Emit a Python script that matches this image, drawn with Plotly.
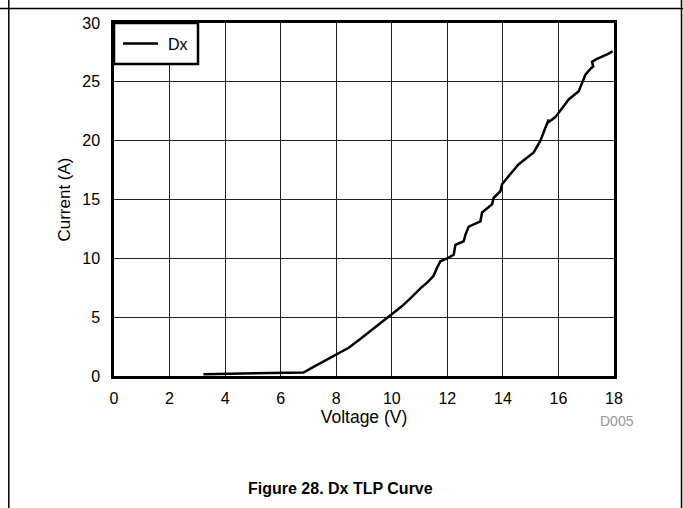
import plotly.graph_objects as go

voltage = [3.22, 4.0, 5.0, 6.0, 6.82, 7.2, 7.6, 8.0, 8.45, 8.9, 9.35, 9.7, 10.0,
           10.35, 10.67, 10.79, 11.03, 11.3, 11.5, 11.63, 11.75, 11.99, 12.23,
           12.29, 12.59, 12.65, 12.77, 13.19, 13.25, 13.61, 13.67, 13.91, 13.97,
           14.21, 14.57, 15.11, 15.35, 15.53, 15.65, 15.6, 15.89, 16.1, 16.37,
           16.73, 16.97, 17.15, 17.25, 17.21, 17.35, 17.81, 17.95]
current = [0.15, 0.17, 0.2, 0.25, 0.3, 0.8, 1.3, 1.8, 2.4, 3.2, 4.05, 4.65, 5.2,
           5.9, 6.6, 6.9, 7.45, 8.0, 8.5, 9.2, 9.75, 10.0, 10.3,
           11.15, 11.45, 12.0, 12.7, 13.15, 13.9, 14.6, 15.15, 15.7, 16.3,
           17.0, 18.0, 19.0, 20.0, 21.1, 21.8, 21.5, 22.0, 22.7, 23.5,
           24.2, 25.6, 26.1, 26.3, 26.7, 26.9, 27.4, 27.6]

x_ticks = list(range(0, 19, 2))
y_ticks = list(range(0, 31, 5))

W, H = 683, 508
L, R, T, B = 114, 69, 23, 132
PW, PH = W - L - R, H - T - B


def px(x):
    return (x - L) / PW


def py(y):
    return (H - B - y) / PH


fig = go.Figure()
fig.add_trace(go.Scatter(x=voltage, y=current, mode="lines", name="Dx",
                         line=dict(color="black", width=2.5), showlegend=False))

font = "Liberation Sans, Arial, sans-serif"
axis_common = dict(showline=True, linecolor="black", linewidth=2.5, mirror=True,
                   showgrid=True, gridcolor="#222", gridwidth=1, zeroline=False,
                   ticks="", tickfont=dict(size=16, color="black", family=font))

fig.update_xaxes(range=[0, 18], tickvals=x_ticks, ticklabelstandoff=6,
                 title=dict(text="Voltage (V)", font=dict(size=17.5, family=font, color="black"), standoff=0),
                 **axis_common)
fig.update_yaxes(range=[0, 30], tickvals=y_ticks, ticklabelstandoff=8,
                 title=dict(text="Current (A)", font=dict(size=17, family=font, color="black"), standoff=8),
                 **axis_common)

shapes = [
    dict(type="line", xref="paper", yref="paper", x0=px(0), x1=px(690), y0=py(8.5), y1=py(8.5),
         line=dict(color="black", width=1.5)),
    dict(type="line", xref="paper", yref="paper", x0=px(8.8), x1=px(8.8), y0=py(0), y1=py(520),
         line=dict(color="black", width=1.5)),
    dict(type="line", xref="paper", yref="paper", x0=px(681.5), x1=px(681.5), y0=py(0), y1=py(520),
         line=dict(color="black", width=1.5)),
    # legend box
    dict(type="rect", xref="paper", yref="paper", x0=px(114), x1=px(198), y0=py(23), y1=py(64),
         fillcolor="white", line=dict(color="black", width=2.5)),
    dict(type="line", xref="paper", yref="paper", x0=px(123), x1=px(158), y0=py(43.5), y1=py(43.5),
         line=dict(color="black", width=2.5)),
]

annotations = [
    dict(text="Dx", xref="paper", yref="paper", x=px(166), y=py(44), xanchor="left", yanchor="middle",
         showarrow=False, font=dict(size=16, color="black", family=font)),
    dict(text="D005", xref="paper", yref="paper", x=px(617), y=py(421), xanchor="center", yanchor="middle",
         showarrow=False, font=dict(size=14, color="#999", family=font)),
    dict(text="<b>Figure 28. Dx TLP Curve</b>", xref="paper", yref="paper", x=px(340), y=py(488),
         xanchor="center", yanchor="middle",
         showarrow=False, font=dict(size=16, color="black", family=font)),
]

fig.update_layout(
    width=W, height=H,
    margin=dict(l=L, r=R, t=T, b=B),
    paper_bgcolor="white", plot_bgcolor="white",
    font=dict(family=font, color="black"),
    showlegend=False,
    shapes=shapes, annotations=annotations,
)

fig.write_html("out.html", config={"displayModeBar": False},
               post_script="document.body.style.margin='0';document.body.style.overflow='hidden';")
